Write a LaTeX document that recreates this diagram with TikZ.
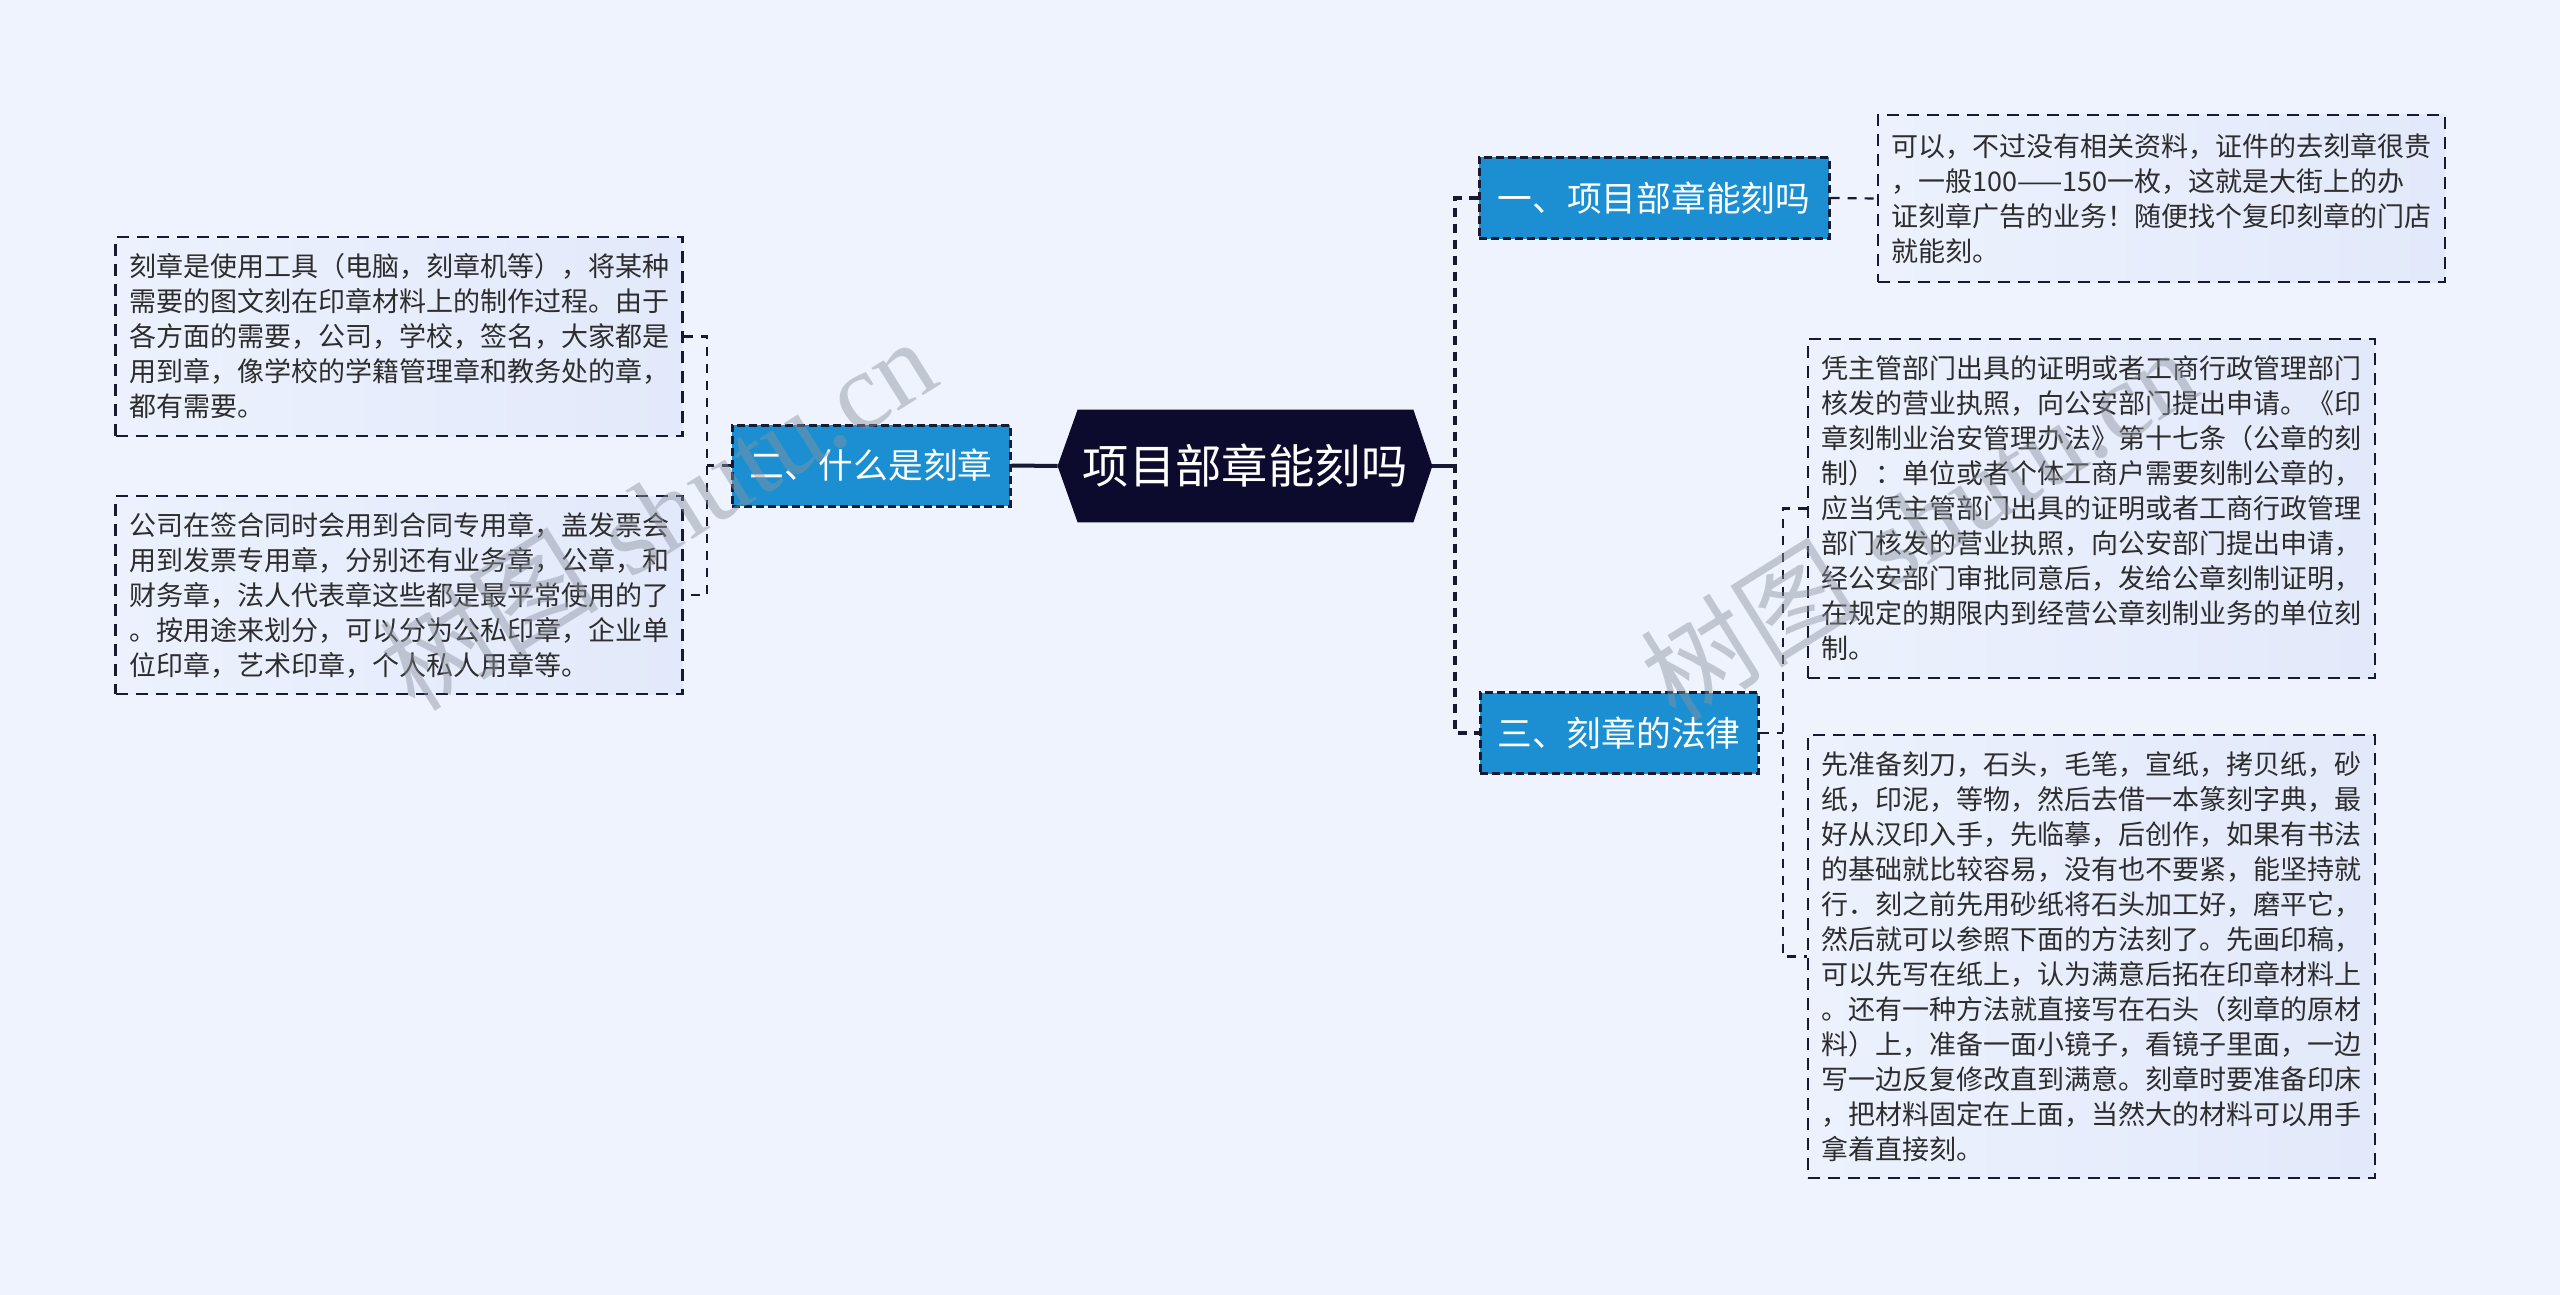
\documentclass[tikz,border=0pt]{standalone}
\usepackage{fontspec}
\setmainfont{Noto Sans CJK SC}
\newfontfamily\wmserif{Liberation Serif}
\usetikzlibrary{calc}
\definecolor{bg}{RGB}{238,243,253}
\definecolor{boxL}{RGB}{236,241,253}
\definecolor{boxR}{RGB}{226,233,250}
\definecolor{lineC}{RGB}{22,26,50}
\definecolor{txtC}{RGB}{45,45,45}
\definecolor{topicC}{RGB}{27,143,210}
\definecolor{centC}{RGB}{12,10,45}
\definecolor{wmC}{RGB}{140,146,158}
\tikzset{
  txtbox/.style={draw=lineC, line width=1.15pt, dash pattern=on 6pt off 4pt,
    left color=boxL, right color=boxR, text=txtC, text width=270pt, align=left,
    inner xsep=6.5pt, inner ysep=0pt, minimum width=283.5pt,
    font=\fontsize{13.5}{17.5}\selectfont},
  topic/.style={draw=lineC, line width=1.5pt, dash pattern=on 4pt off 2pt,
    fill=topicC, text=white, inner sep=0pt, minimum height=40.5pt,
    font=\fontsize{17.35}{20}\selectfont},
  trunk/.style={draw=lineC, line width=2pt, dash pattern=on 4.5pt off 3.5pt},
  solidlink/.style={draw=lineC, line width=2pt},
  twig/.style={draw=lineC, line width=1.1pt, dash pattern=on 4.5pt off 4pt},
  wm/.style={text=wmC, text opacity=0.45, rotate=32, inner sep=0pt}
}
\begin{document}
\begin{tikzpicture}[x=0.5pt,y=-0.5pt]
\fill[bg] (0,0) rectangle (2560,1295);
\useasboundingbox (0,0) rectangle (2560,1295);

% central topic
\node[minimum width=187pt, minimum height=56pt, inner sep=0pt] (c) at (1245,466) {};
\fill[centC] (c.west) -- ([xshift=10pt]c.north west) -- ([xshift=-9.5pt]c.north east)
  -- (c.east) -- ([xshift=-9.5pt]c.south east) -- ([xshift=10pt]c.south west) -- cycle;
\node[text=white, font=\fontsize{23.2}{26}\selectfont, inner sep=0pt] (ctext) at (c) {项目部章能刻吗};

% main topics
\node[topic, minimum width=175pt] (n1) at (1654,198) {一、项目部章能刻吗};
\node[topic, minimum width=139pt] (n2) at (871,465.5) {二、什么是刻章};
\node[topic, minimum width=139pt] (n3) at (1619,733) {三、刻章的法律};

% text boxes
\node[txtbox, minimum height=99.5pt] (b1) at (399,336.5) {刻章是使用工具（电脑，刻章机等），将某种\\需要的图文刻在印章材料上的制作过程。由于\\各方面的需要，公司，学校，签名，大家都是\\用到章，像学校的学籍管理章和教务处的章，\\都有需要。};
\node[txtbox, minimum height=99pt] (b2) at (399,595) {公司在签合同时会用到合同专用章，盖发票会\\用到发票专用章，分别还有业务章，公章，和\\财务章，法人代表章这些都是最平常使用的了\\。按用途来划分，可以分为公私印章，企业单\\位印章，艺术印章，个人私人用章等。};
\node[txtbox, minimum height=83.5pt] (bx1) at (2161.5,198.5) {可以，不过没有相关资料，证件的去刻章很贵\\，一般100——150一枚，这就是大街上的办\\证刻章广告的业务！随便找个复印刻章的门店\\就能刻。};
\node[txtbox, minimum height=169.5pt] (b3a) at (2091.5,508.5) {凭主管部门出具的证明或者工商行政管理部门\\核发的营业执照，向公安部门提出申请。《印\\章刻制业治安管理办法》第十七条（公章的刻\\制）：单位或者个体工商户需要刻制公章的，\\应当凭主管部门出具的证明或者工商行政管理\\部门核发的营业执照，向公安部门提出申请，\\经公安部门审批同意后，发给公章刻制证明，\\在规定的期限内到经营公章刻制业务的单位刻\\制。};
\node[txtbox, minimum height=221.5pt] (b3b) at (2091.5,956.5) {先准备刻刀，石头，毛笔，宣纸，拷贝纸，砂\\纸，印泥，等物，然后去借一本篆刻字典，最\\好从汉印入手，先临摹，后创作，如果有书法\\的基础就比较容易，没有也不要紧，能坚持就\\行．刻之前先用砂纸将石头加工好，磨平它，\\然后就可以参照下面的方法刻了。先画印稿，\\可以先写在纸上，认为满意后拓在印章材料上\\。还有一种方法就直接写在石头（刻章的原材\\料）上，准备一面小镜子，看镜子里面，一边\\写一边反复修改直到满意。刻章时要准备印床\\，把材料固定在上面，当然大的材料可以用手\\拿着直接刻。};

% connectors
\coordinate (jR) at (1455,466);
\coordinate (jL) at (707,465.5);
\coordinate (jR3) at (1783,733);
\draw[solidlink] (c.west) -- (n2.east);
\draw[solidlink] (c.east) -- (jR);
\draw[trunk] (n1.west) -| (jR) |- (n3.west);
\draw[twig] (n2.west) -- (jL);
\draw[twig] (b1.east) -| (jL) |- (b2.east);
\draw[twig] (n1.east) -- (bx1.west);
\draw[twig] (n3.east) -- (jR3);
\draw[twig] (b3a.west) -| (jR3) |- (b3b.west);

% watermarks
\node[wm] (wm1) at (657,513) {\fontsize{55}{55}\selectfont 树图\hspace{0.3em}{\wmserif shutu.cn}};
\node[wm] (wm2) at (1918,523) {\fontsize{55}{55}\selectfont 树图\hspace{0.3em}{\wmserif shutu.cn}};
\end{tikzpicture}
\end{document}
